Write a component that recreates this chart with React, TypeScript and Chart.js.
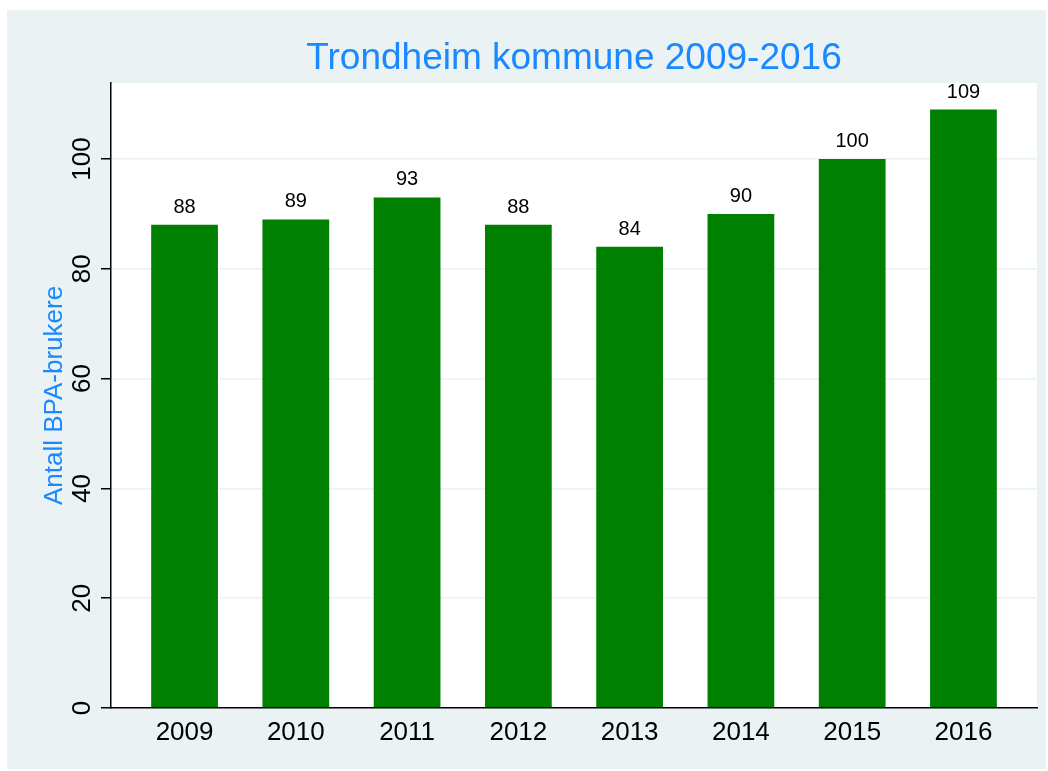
import React, { useEffect, useRef } from "react";
import { Chart, registerables } from "chart.js";

Chart.register(...registerables);

const years = [2009, 2010, 2011, 2012, 2013, 2014, 2015, 2016];
const users = [88, 89, 93, 88, 84, 90, 100, 109];
const yTicks = [0, 20, 40, 60, 80, 100];
const titleText = "Trondheim kommune 2009-2016";
const yTitleText = "Antall BPA-brukere";

const FONT = "'Liberation Sans', Arial, Helvetica, sans-serif";
const BLUE = "#1a89ff";
const BG = "#eaf2f3";

const drawPlugin = {
  id: "stataLook",
  beforeDraw(chart: any) {
    const { ctx, chartArea } = chart;
    ctx.save();
    ctx.fillStyle = "#ffffff";
    ctx.fillRect(0, 0, chart.width, chart.height);
    ctx.fillStyle = BG;
    ctx.fillRect(7, 10, 1039, 759);
    ctx.fillStyle = "#ffffff";
    ctx.fillRect(chartArea.left, chartArea.top, chartArea.right - chartArea.left, chartArea.bottom - chartArea.top);
    ctx.restore();
  },
  afterDraw(chart: any) {
    const { ctx, chartArea } = chart;
    const xs = chart.scales.x;
    const ys = chart.scales.y;
    ctx.save();
    // title
    ctx.fillStyle = BLUE;
    ctx.font = `37px ${FONT}`;
    ctx.textAlign = "center";
    ctx.textBaseline = "alphabetic";
    ctx.fillText(titleText, (chartArea.left + chartArea.right) / 2, 69);
    // y title
    ctx.save();
    ctx.translate(62, (chartArea.top + chartArea.bottom) / 2);
    ctx.rotate(-Math.PI / 2);
    ctx.font = `26px ${FONT}`;
    ctx.fillText(yTitleText, 0, 0);
    ctx.restore();
    // y tick labels
    ctx.fillStyle = "#000000";
    ctx.font = `26px ${FONT}`;
    yTicks.forEach((v) => {
      const py = ys.getPixelForValue(v);
      ctx.save();
      ctx.translate(90, py);
      ctx.rotate(-Math.PI / 2);
      ctx.fillText(String(v), 0, 0);
      ctx.restore();
    });
    // x labels
    years.forEach((yr) => {
      ctx.fillText(String(yr), xs.getPixelForValue(yr), 740);
    });
    // data labels
    ctx.font = `20px ${FONT}`;
    const meta = chart.getDatasetMeta(0);
    meta.data.forEach((bar: any, i: number) => {
      ctx.fillText(String(users[i]), bar.x, bar.y - 12);
    });
    ctx.restore();
  },
};

export default function App() {
  const ref = useRef<HTMLCanvasElement | null>(null);
  useEffect(() => {
    if (!ref.current) return;
    const chart = new Chart(ref.current, {
      type: "bar",
      data: {
        datasets: [
          {
            data: years.map((yr, i) => ({ x: yr, y: users[i] })),
            backgroundColor: "#008000",
            borderWidth: 0,
            barPercentage: 0.6,
            categoryPercentage: 1,
          },
        ],
      },
      options: {
        animation: false,
        responsive: false,
        maintainAspectRatio: false,
        layout: { padding: { left: 0, top: 83, right: 11, bottom: 0 } },
        plugins: {
          legend: { display: false },
          title: { display: false },
          tooltip: { enabled: false },
        },
        scales: {
          x: {
            type: "linear",
            offset: false,
            min: 2009 - 0.661,
            max: 2016 + 0.661,
            afterBuildTicks: (axis: any) => {
              axis.ticks = years.map((v) => ({ value: v }));
            },
            afterFit: (scale: any) => {
              scale.height = 63;
            },
            grid: { display: false, drawTicks: false, offset: false },
            border: { display: true, color: "#000000", width: 1.5 },
            ticks: { display: false },
          },
          y: {
            min: 0,
            max: 113.84,
            afterBuildTicks: (axis: any) => {
              axis.ticks = yTicks.map((v) => ({ value: v }));
            },
            afterFit: (scale: any) => {
              scale.width = 111;
            },
            grid: {
              color: BG,
              lineWidth: 1.5,
              drawTicks: true,
              tickLength: 10,
              tickColor: "#000000",
              tickWidth: 1.5,
            },
            border: { display: true, color: "#000000", width: 1.5 },
            ticks: { display: false },
          },
        },
      },
      plugins: [drawPlugin],
    });
    return () => chart.destroy();
  }, []);
  return (
    <div style={{ position: "fixed", left: 0, top: 0, width: 1048, height: 771 }}>
      <canvas ref={ref} width={1048} height={771} style={{ display: "block", width: 1048, height: 771 }} />
    </div>
  );
}
